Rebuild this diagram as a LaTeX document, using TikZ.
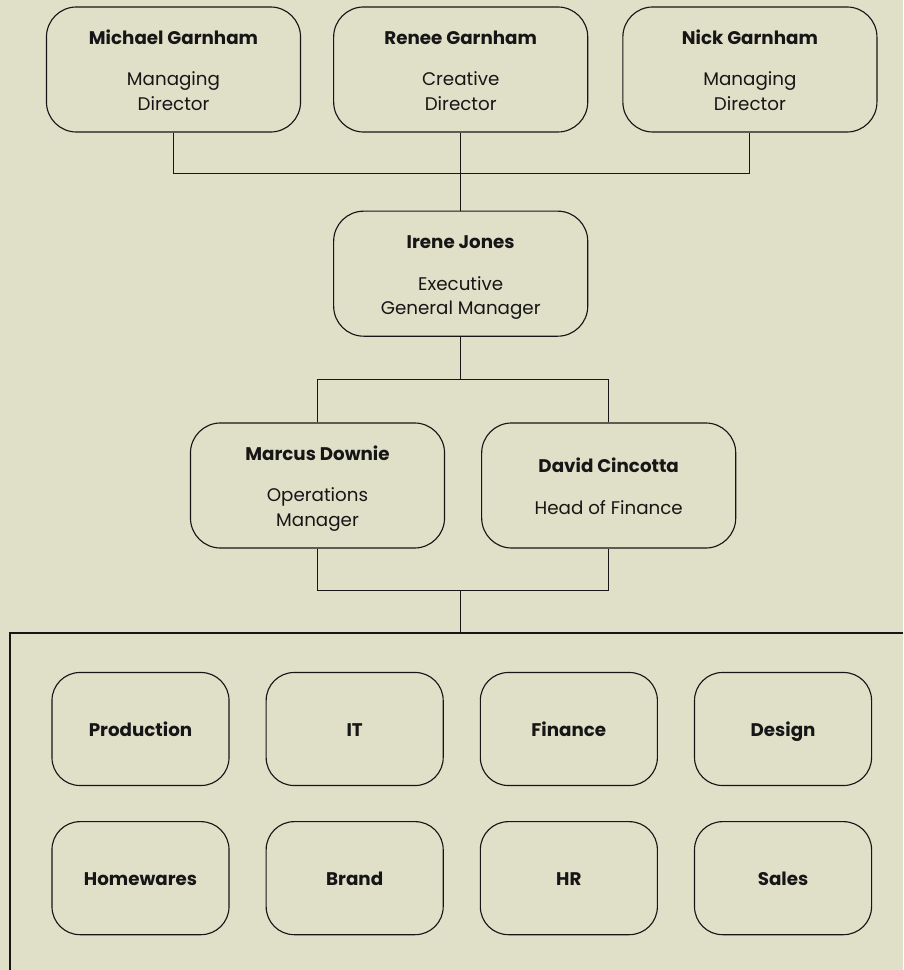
\documentclass[tikz,border=0pt]{standalone}
\usepackage{fontspec}
\setmainfont{Poppins}
\usetikzlibrary{positioning, calc}
\definecolor{paperBeige}{RGB}{224,223,200}
\definecolor{inkBlack}{RGB}{22,22,22}
\tikzset{
	personbox/.style={rectangle, draw=inkBlack, rounded corners=0.75cm,
		minimum width=6.35cm, minimum height=3.125cm, align=center,
		font=\fontsize{13}{17.5}\selectfont, text=inkBlack, line width=0.8pt, inner sep=0pt},
	deptbox/.style={rectangle, draw=inkBlack, rounded corners=0.7cm,
		minimum width=4.425cm, minimum height=2.825cm, align=center,
		font=\fontsize{13}{17}\selectfont\bfseries, text=inkBlack, line width=0.8pt,
		text height=1.95ex, text depth=0.1ex},
	orgline/.style={draw=inkBlack, line width=0.8pt}
}
\newcommand{\staffcard}[2]{\rule{0pt}{16.5pt}\textbf{#1}\\[12pt]#2\strut}

\begin{document}
\begin{tikzpicture}[x=0.025cm, y=-0.025cm]
	\useasboundingbox[fill=paperBeige] (0,0) rectangle (903,970);
	% owners
	\node[personbox] (michael) at (173.5,69.5) {\staffcard{Michael Garnham}{Managing\\Director}};
	\node[personbox, right=0.8cm of michael] (renee) {\staffcard{Renee Garnham}{Creative\\Director}};
	\node[personbox, right=0.85cm of renee] (nick) {\staffcard{Nick Garnham}{Managing\\Director}};
	% management
	\node[personbox, below=1.95cm of renee] (irene) {\staffcard{Irene Jones}{Executive\\General Manager}};
	\node[personbox] (marcus) at (317.5,485.5) {\staffcard{Marcus Downie}{Operations\\Manager}};
	\node[personbox, right=0.9cm of marcus] (david) {\staffcard{David Cincotta}{Head of Finance}};
	% departments
	\coordinate (frameedge) at (10,633);
	\node[deptbox] (production) at (140.5,729) {Production};
	\node[deptbox, right=0.9cm of production] (it) {IT};
	\node[deptbox, right=0.9cm of it] (finance) {Finance};
	\node[deptbox, right=0.9cm of finance] (design) {Design};
	\node[deptbox, below=0.875cm of production] (homewares) {Homewares};
	\node[deptbox, below=0.875cm of it] (brand) {Brand};
	\node[deptbox, below=0.875cm of finance] (hr) {HR};
	\node[deptbox, below=0.875cm of design] (sales) {Sales};
	\draw[orgline] (903,633) -- (frameedge) -- (10,970);
	% connectors
	\coordinate (topbus) at ($(renee.south)!0.52!(irene.north)$);
	\draw[orgline] (michael.south) |- (topbus) -| (nick.south);
	\draw[orgline] (renee.south) -- (irene.north);
	\coordinate (midbus) at ($(irene.south)!0.5!(irene.south |- marcus.north)$);
	\draw[orgline] (irene.south) -- (midbus);
	\draw[orgline] (marcus.north) |- (midbus) -| (david.north);
	\coordinate (lowbus) at ($(irene.south |- marcus.south)!0.5!(irene.south |- frameedge)$);
	\draw[orgline] (marcus.south) |- (lowbus) -| (david.south);
	\draw[orgline] (lowbus) -- (irene.south |- frameedge);
\end{tikzpicture}
\end{document}
